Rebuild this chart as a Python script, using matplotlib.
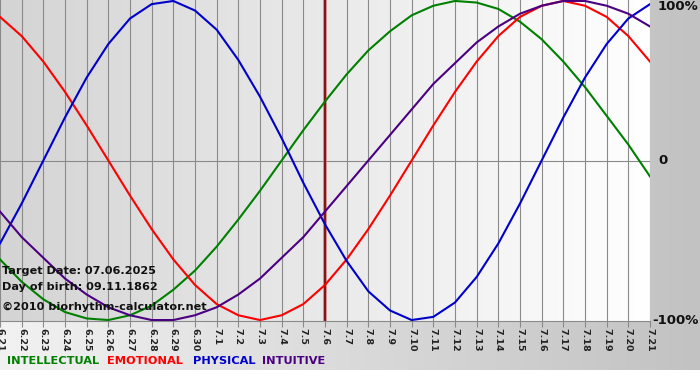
"""Biorhythm chart, 21 June - 21 July, target day 6 July."""

import matplotlib
matplotlib.use("Agg")
import matplotlib.pyplot as plt
import numpy as np
from matplotlib.colors import LinearSegmentedColormap

# ── Data (percent, one value per day) ────────────────────────────────────────
day_labels = (["6.%d" % d for d in range(21, 31)]
              + ["7.%d" % d for d in range(1, 22)])
target_label = "7.6"

intellectual = [-62, -76, -87, -95, -99, -100, -97, -91, -81, -69, -54, -37, -19, 0,
                19, 37, 54, 69, 81, 91, 97, 100, 99, 95, 87, 76, 62, 46, 28, 10, -10]
emotional = [90, 78, 62, 43, 22, 0, -22, -43, -62, -78, -90, -97, -100, -97, -90,
             -78, -62, -43, -22, 0, 22, 43, 62, 78, 90, 97, 100, 97, 90, 78, 62]
physical = [-52, -27, 0, 27, 52, 73, 89, 98, 100, 94, 82, 63, 40, 14, -14, -40,
            -63, -82, -94, -100, -98, -89, -73, -52, -27, 0, 27, 52, 73, 89, 98]
intuitive = [-32, -48, -61, -74, -84, -92, -97, -100, -100, -97, -92, -84, -74, -61,
             -48, -32, -16, 0, 16, 32, 48, 61, 74, 84, 92, 97, 100, 100, 97, 92, 84]

series = [("INTELLECTUAL", intellectual, "#008000"),
          ("EMOTIONAL", emotional, "#ff0000"),
          ("PHYSICAL", physical, "#0000cc"),
          ("INTUITIVE", intuitive, "#4b0082")]

info_lines = ["Target Date: 07.06.2025",
              "Day of birth: 09.11.1862",
              "\u00a92010 biorhythm-calculator.net"]

W, H = 700, 380
fig = plt.figure(figsize=(W / 100, H / 100), dpi=100)
fig.patch.set_facecolor("white")

# ── Page background gradient (light left -> gray right) ──────────────────────
bg = fig.add_axes([0, 10 / H, 1, 1 - 10 / H], zorder=0)
bg.imshow(np.linspace(0, 1, 256)[None, :], aspect="auto", extent=(0, 1, 0, 1),
          cmap=LinearSegmentedColormap.from_list("page", ["#f2f2f2", "#c2c2c2"]))
bg.set_axis_off()

# ── Plot area ────────────────────────────────────────────────────────────────
x = np.arange(len(day_labels))
ax = fig.add_axes([0, (H - 321) / H, 650 / W, 321 / H], zorder=1)
ax.imshow(np.linspace(0, 1, 256)[None, :], aspect="auto",
          extent=(0, len(x) - 1, -100.6, 100.6), zorder=0,
          cmap=LinearSegmentedColormap.from_list("plot", ["#d4d4d4", "#ffffff"]))
ax.set_xlim(0, len(x) - 1)
ax.set_ylim(-100.6, 100.6)

for xi in x:
    ax.axvline(xi, color="#8a8a8a", lw=0.8, zorder=1)
ax.axhline(0, color="#8a8a8a", lw=0.8, zorder=1)

t = day_labels.index(target_label)
ax.axvline(t, color="#c88080", lw=2.6, zorder=2)
ax.axvline(t, color="#7a0000", lw=1.2, zorder=2)

for name, vals, col in series:
    ax.plot(x, vals, color=col, lw=1.5, zorder=3, solid_joinstyle="round")

for sp in ["top", "right", "left"]:
    ax.spines[sp].set_visible(False)
ax.spines["bottom"].set_color("#8a8a8a")
ax.set_yticks([])
ax.set_xticks(x)
ax.set_xticklabels(day_labels, rotation=-90, fontsize=6.8, fontweight="bold",
                   color="#222222")
ax.tick_params(axis="x", length=4, width=0.8, color="#8a8a8a", pad=1)

for i, line in enumerate(info_lines):
    ax.text(0.003, (H - 271 - 16.5 * i - (3 if i == 2 else 0)) / H, line,
            transform=fig.transFigure, fontsize=8.1, fontweight="bold",
            color="#111111", va="center", ha="left", zorder=4)

# ── Right-hand scale labels ──────────────────────────────────────────────────
for txt, px, py in [("100%", 658, 7), ("0", 658, 161), ("-100%", 652, 321)]:
    fig.text(px / W, 1 - py / H, txt, fontsize=9.5, fontweight="bold",
             color="#111111", va="center", ha="left")

# ── Legend ───────────────────────────────────────────────────────────────────
legend_x = [7, 107, 193, 262]
for (name, vals, col), lx in zip(series, legend_x):
    fig.text(lx / W, 1 - 361 / H, name, fontsize=8.2, fontweight="bold",
             color=col, va="center", ha="left")

fig.savefig("out.png", dpi=100)
